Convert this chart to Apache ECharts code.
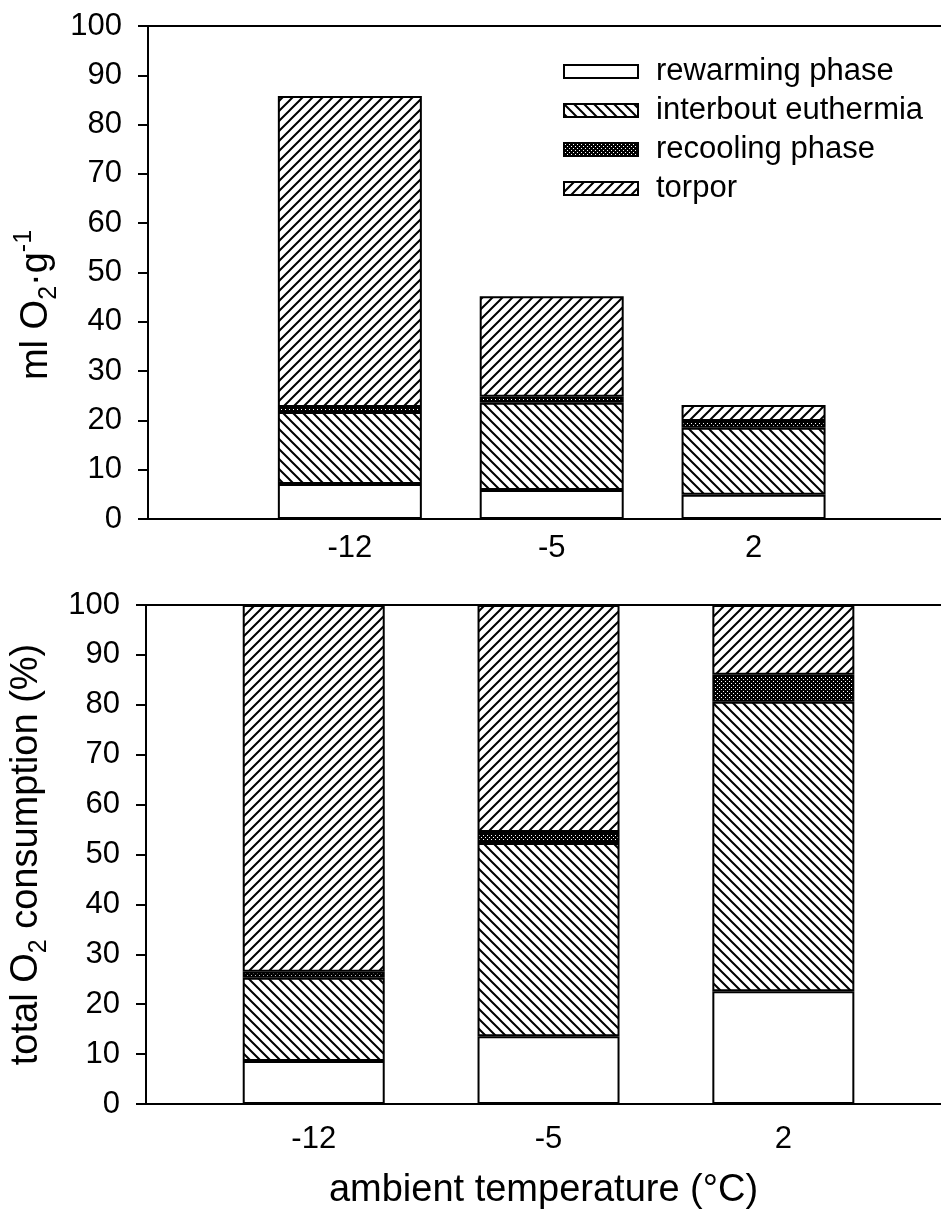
<!DOCTYPE html>
<html><head><meta charset="utf-8">
<script src="https://cdn.jsdelivr.net/npm/echarts@6/dist/echarts.min.js"></script>
<style>html,body{margin:0;padding:0;background:#fff}#c{width:941px;height:1216px}</style>
</head><body><div id="c"></div>
<script>
// ---- data ----
const temperatures = [-12, -5, 2];
const seriesNames = ['rewarming phase', 'interbout euthermia', 'recooling phase', 'torpor'];
// top panel: ml O2 per g
const absRewarming = [7.1, 5.9, 4.9];
const absInterbout = [14.6, 17.7, 13.6];
const absRecooling = [1.0, 1.2, 1.4];
const absTorpor    = [63.1, 20.4, 3.2];
// bottom panel: % of total O2 consumption
const pctRewarming = [8.6, 13.6, 22.6];
const pctInterbout = [16.7, 38.7, 58.0];
const pctRecooling = [1.2, 2.2, 5.4];
const pctTorpor    = [73.5, 45.5, 14.0];
const yTickValues = [0, 10, 20, 30, 40, 50, 60, 70, 80, 90, 100];

// ---- fill patterns ----
function hatch(dir) {
  const c = document.createElement('canvas'); c.width = 10; c.height = 10;
  const g = c.getContext('2d');
  g.fillStyle = '#fff'; g.fillRect(0, 0, 10, 10);
  g.strokeStyle = '#000'; g.lineWidth = 2; g.beginPath();
  if (dir === '/') {
    g.moveTo(-1, 11); g.lineTo(11, -1);
    g.moveTo(-1, 1); g.lineTo(1, -1);
    g.moveTo(9, 11); g.lineTo(11, 9);
  } else {
    g.moveTo(-1, -1); g.lineTo(11, 11);
    g.moveTo(9, -1); g.lineTo(11, 1);
    g.moveTo(-1, 9); g.lineTo(1, 11);
  }
  g.stroke();
  return c;
}
function dots() {
  const c = document.createElement('canvas'); c.width = 4; c.height = 4;
  const g = c.getContext('2d');
  g.fillStyle = '#000'; g.fillRect(0, 0, 4, 4);
  g.fillStyle = '#fff'; g.fillRect(1, 1, 1, 1); g.fillRect(3, 3, 1, 1);
  return c;
}
const fills = {
  'rewarming phase': '#ffffff',
  'interbout euthermia': { image: hatch('\\'), repeat: 'repeat' },
  'recooling phase': { image: dots(), repeat: 'repeat' },
  'torpor': { image: hatch('/'), repeat: 'repeat' }
};

const FONT = 'Liberation Sans, Arial, Helvetica, sans-serif';
const topVals = [absRewarming, absInterbout, absRecooling, absTorpor];
const botVals = [pctRewarming, pctInterbout, pctRecooling, pctTorpor];

function makeSeries(valsList, stack, idx, barW) {
  return seriesNames.map((name, k) => ({
    type: 'bar', name: name, stack: stack,
    xAxisIndex: idx, yAxisIndex: idx, barWidth: barW,
    encode: { x: 1, y: 0 },
    data: temperatures.map((t, i) => [valsList[k][i], t]),
    itemStyle: { color: fills[name], borderColor: '#000', borderWidth: 2 },
    emphasis: { disabled: true }
  }));
}

const yAxisBase = (grid) => ({
  type: 'value', gridIndex: grid, min: 0, max: 100, interval: 10,
  axisLine: { show: true, onZero: false, lineStyle: { color: '#000', width: 2 } },
  axisTick: { show: true, length: 10, lineStyle: { color: '#000', width: 2 } },
  axisLabel: { fontSize: 31, color: '#000', margin: 26, fontFamily: FONT,
    customValues: yTickValues },
  splitLine: { show: false }
});

const chart = echarts.init(document.getElementById('c'), null, { renderer: 'canvas' });
chart.setOption({
  animation: false,
  backgroundColor: '#fff',
  textStyle: { fontFamily: FONT, color: '#000' },
  grid: [
    { left: 148, top: 26, right: 0, height: 493 },
    { left: 146, top: 605, right: 0, height: 499 }
  ],
  legend: {
    orient: 'vertical', left: 558, top: 51,
    itemWidth: 74, itemHeight: 13, itemGap: 8, icon: 'rect',
    data: seriesNames,
    selectedMode: false,
    itemStyle: { borderColor: '#000', borderWidth: 2 },
    textStyle: { fontSize: 31, color: '#000', fontFamily: FONT, padding: [0, 0, 0, 13] }
  },
  xAxis: [
    { type: 'value', gridIndex: 0, min: -19, max: 8.5,
      axisLine: { show: true, onZero: false, lineStyle: { color: '#000', width: 2 } },
      axisTick: { show: false }, splitLine: { show: false },
      axisLabel: { fontSize: 31, color: '#000', margin: 14, fontFamily: FONT, customValues: temperatures } },
    { type: 'value', gridIndex: 1, min: -17, max: 6.7,
      axisLine: { show: true, onZero: false, lineStyle: { color: '#000', width: 2 } },
      axisTick: { show: false }, splitLine: { show: false },
      axisLabel: { fontSize: 31, color: '#000', margin: 20, fontFamily: FONT, customValues: temperatures },
      name: 'ambient temperature (°C)', nameLocation: 'middle', nameGap: 68,
      nameTextStyle: { fontSize: 38, color: '#000', fontFamily: FONT } },
    { type: 'value', gridIndex: 0, position: 'top', min: -19, max: 8.5,
      axisLine: { show: true, onZero: false, lineStyle: { color: '#000', width: 2 } },
      axisTick: { show: false }, axisLabel: { show: false }, splitLine: { show: false } },
    { type: 'value', gridIndex: 1, position: 'top', min: -17, max: 6.7,
      axisLine: { show: true, onZero: false, lineStyle: { color: '#000', width: 2 } },
      axisTick: { show: false }, axisLabel: { show: false }, splitLine: { show: false } }
  ],
  yAxis: [
    yAxisBase(0),
    Object.assign(yAxisBase(1), {
      name: '{a|total O}{b|2}{a| consumption (%)}', nameLocation: 'middle', nameGap: 94,
      nameRotate: 90,
      nameTextStyle: { fontFamily: FONT, color: '#000', rich: {
        a: { fontSize: 38, lineHeight: 50, verticalAlign: 'middle', fontFamily: FONT, color: '#000' },
        b: { fontSize: 25, lineHeight: 25, verticalAlign: 'bottom', fontFamily: FONT, color: '#000' }
      } }
    })
  ],
  graphic: [{
    type: 'text', x: 37, y: 305, rotation: Math.PI / 2,
    style: {
      text: '{a|ml O}{b|2}{a|·g}{c|-1}', align: 'center', verticalAlign: 'middle',
      fontFamily: FONT, fill: '#000',
      rich: {
        a: { fontSize: 38, lineHeight: 50, verticalAlign: 'middle', fontFamily: FONT, fill: '#000' },
        b: { fontSize: 25, lineHeight: 25, verticalAlign: 'bottom', fontFamily: FONT, fill: '#000' },
        c: { fontSize: 25, lineHeight: 25, verticalAlign: 'top', fontFamily: FONT, fill: '#000' }
      }
    }
  }],
  series: makeSeries(topVals, 'top', 0, 144).concat(makeSeries(botVals, 'bot', 1, 142))
});
</script>
</body></html>
